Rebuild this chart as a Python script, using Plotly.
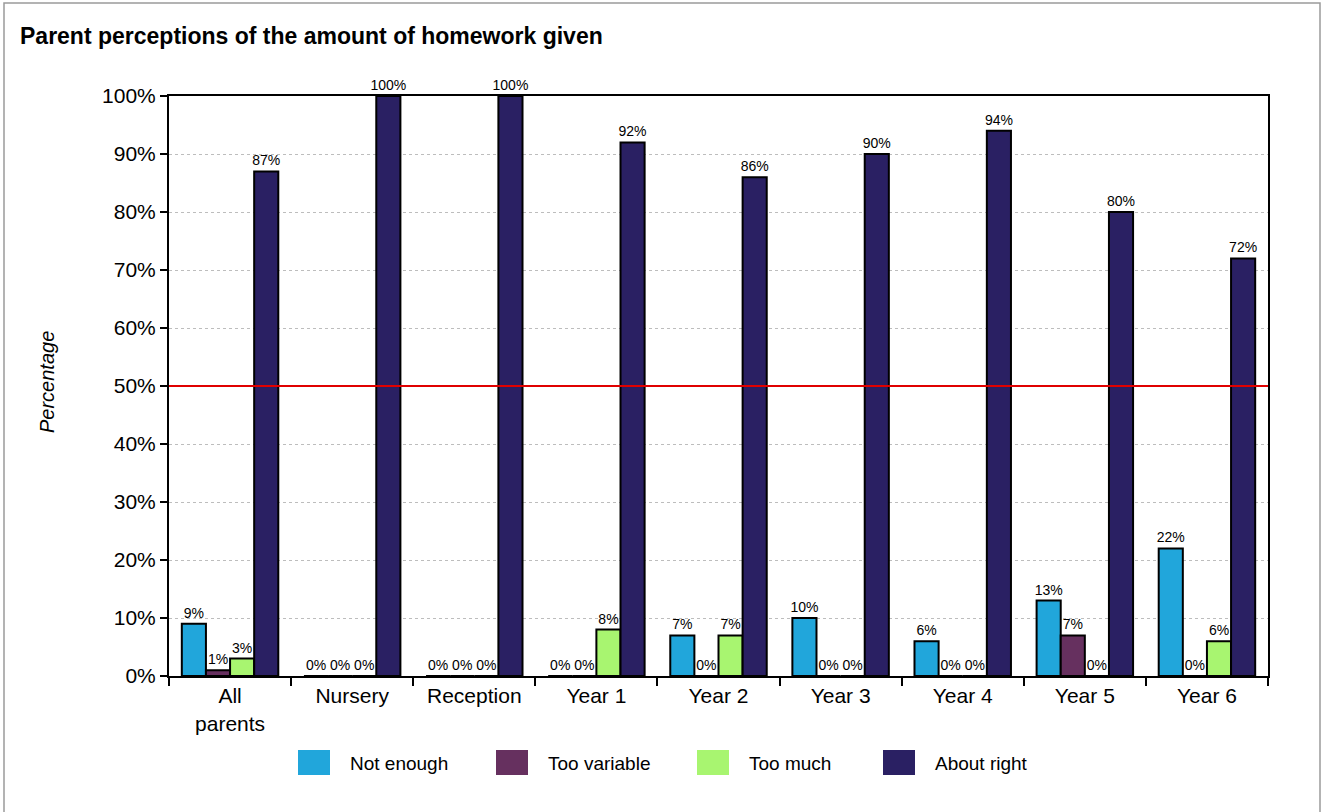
import plotly.graph_objects as go

categories = ["All<br>parents", "Nursery", "Reception", "Year 1", "Year 2", "Year 3", "Year 4", "Year 5", "Year 6"]
not_enough = [9, 0, 0, 0, 7, 10, 6, 13, 22]
too_variable = [1, 0, 0, 0, 0, 0, 0, 7, 0]
too_much = [3, 0, 0, 8, 7, 0, 0, 0, 6]
about_right = [87, 100, 100, 92, 86, 90, 94, 80, 72]
series_names = ["Not enough", "Too variable", "Too much", "About right"]
series_colors = ["#21A6DB", "#66305F", "#A8F570", "#2A2063"]
y_ticks = list(range(0, 101, 10))
reference_line = 50

FONT = "Liberation Sans, Arial, sans-serif"

W, H = 1328, 812
PX0, PX1, PY0, PY1 = 169, 1268, 96, 676
L, T, R, B = PX0, PY0, W - PX1, H - PY1
pw, ph = PX1 - PX0, PY1 - PY0

def px(x):
    return (x - PX0) / pw

def py(y):
    return (PY1 - y) / ph

fig = go.Figure()
for name, vals, col in zip(series_names, [not_enough, too_variable, too_much, about_right], series_colors):
    fig.add_trace(go.Bar(
        x=categories, y=vals, name=name,
        marker=dict(color=col, line=dict(color="black", width=2)),
        text=[f"{v}%" for v in vals], textposition="outside",
        textfont=dict(size=14, color="black", family=FONT),
        constraintext="none", cliponaxis=False, showlegend=False,
    ))

fig.update_layout(
    width=W, height=H,
    margin=dict(l=L, r=R, t=T, b=B),
    paper_bgcolor="white", plot_bgcolor="white",
    font=dict(family=FONT, color="black"),
    barmode="group", bargap=0.21, bargroupgap=0,
    title=dict(text="<b>Parent perceptions of the amount of homework given</b>",
               font=dict(size=23, family=FONT, color="black"),
               x=20 / W, xanchor="left", xref="container",
               y=1 - 36 / H, yanchor="middle", yref="container"),
    showlegend=False,
)
fig.update_xaxes(
    type="category", showline=True, linecolor="black", linewidth=2, mirror=True,
    ticks="outside", tickson="boundaries", ticklen=8, tickwidth=2, tickcolor="black",
    tickfont=dict(size=21, family=FONT), showgrid=False,
)
fig.update_yaxes(
    range=[0, 100], tickvals=y_ticks, ticktext=[f"{v}%" for v in y_ticks],
    showline=True, linecolor="black", linewidth=2, mirror=True,
    ticks="outside", ticklen=7, tickwidth=2, tickcolor="black",
    tickfont=dict(size=21, family=FONT),
    showgrid=True, gridcolor="#bdbdbd", gridwidth=1, griddash="3px,3px",
    zeroline=False,
)
fig.add_shape(type="line", xref="paper", yref="y", x0=0, x1=1, y0=reference_line, y1=reference_line,
              line=dict(color="#E00000", width=2), layer="above")
fig.add_shape(type="rect", xref="paper", yref="paper",
              x0=px(4), x1=px(1320), y0=py(820), y1=py(3),
              line=dict(color="#9a9a9a", width=1.5), fillcolor="rgba(0,0,0,0)", layer="below")
fig.add_annotation(text="<i>Percentage</i>", xref="paper", yref="paper",
                   x=px(47), y=py(382), textangle=-90, showarrow=False,
                   font=dict(size=20, family=FONT, color="black"),
                   xanchor="center", yanchor="middle")

# custom legend
swatch_x = [298, 496, 697, 883]
for sx, name, col in zip(swatch_x, series_names, series_colors):
    fig.add_shape(type="rect", xref="paper", yref="paper",
                  x0=px(sx), x1=px(sx + 32), y0=py(775), y1=py(750),
                  line=dict(width=0), fillcolor=col)
    fig.add_annotation(text=name, xref="paper", yref="paper",
                       x=px(sx + 50), y=py(763), showarrow=False,
                       xanchor="left", yanchor="middle",
                       font=dict(size=19, family=FONT, color="black"))

fig.write_html("out.html", config={"displayModeBar": False},
               post_script="document.body.style.margin='0';")
